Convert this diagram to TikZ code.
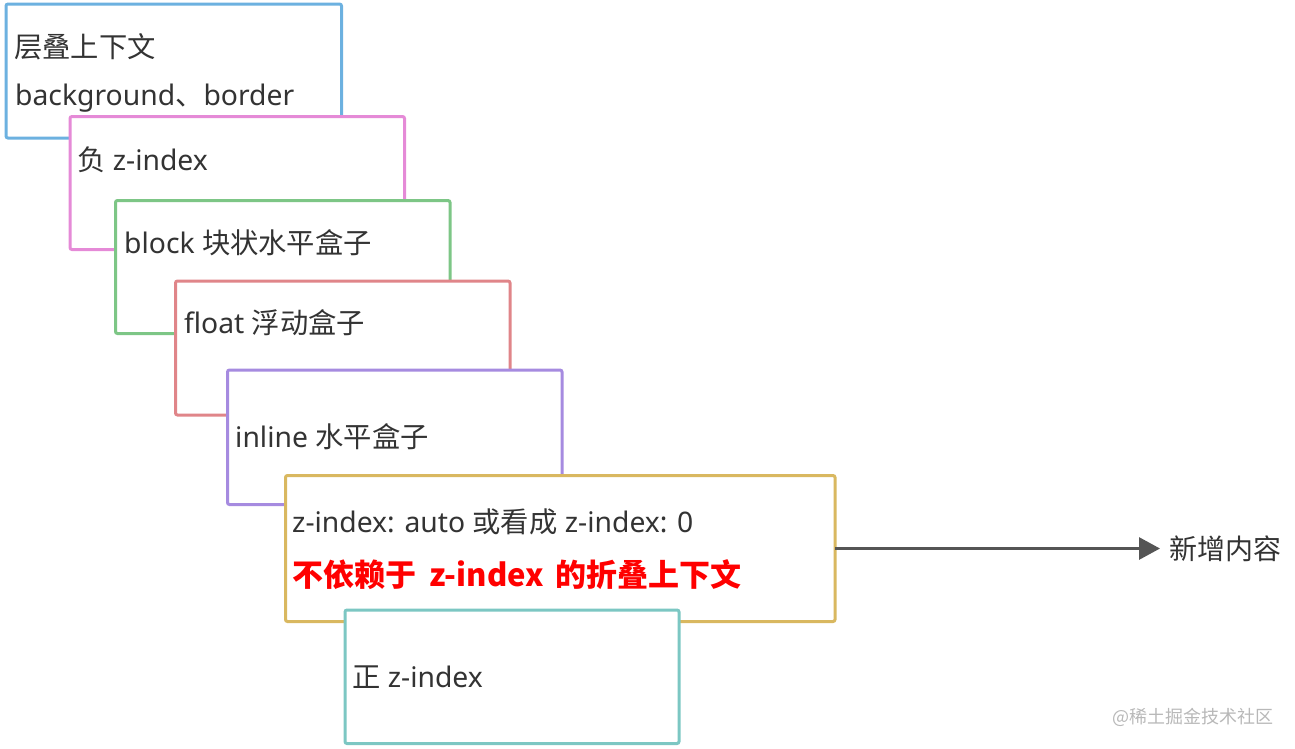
\documentclass[tikz,border=0pt]{standalone}
\usepackage{fontspec}
\setmainfont{Noto Sans}
\newfontfamily\cjk{Noto Sans CJK SC}
\newcommand{\C}[1]{{\cjk #1}}
\usetikzlibrary{arrows.meta}
\definecolor{cblue}{HTML}{6CB1E0}
\definecolor{cpink}{HTML}{E58AD7}
\definecolor{cgreen}{HTML}{7DC686}
\definecolor{cred}{HTML}{E08589}
\definecolor{cpurple}{HTML}{A68BE0}
\definecolor{cgold}{HTML}{D9B860}
\definecolor{cteal}{HTML}{7CC7C3}
\definecolor{ctext}{HTML}{333333}
\definecolor{carrow}{HTML}{555555}
\begin{document}
\begin{tikzpicture}[x=1pt,y=-1pt,
  box/.style={draw=#1, line width=3pt, fill=white, rounded corners=2pt, inner sep=0pt, outer sep=0pt, anchor=north west},
  lbl/.style={inner sep=0pt, anchor=base west, text=ctext, font=\fontsize{28.3}{32}\selectfont},
  boldlbl/.style={inner sep=0pt, anchor=base west, text=red, font=\fontsize{31}{36}\selectfont\cjk\bfseries},
  link/.style={draw=carrow, line width=3pt, -{Triangle[length=21pt,width=22pt]}}
]
\useasboundingbox (0,0) rectangle (1295,748);
\node[box=cblue, minimum width=335.5pt, minimum height=134pt] (b1) at (6,4) {};
\node[lbl] (t1) at (14,57) {\C{层叠上下文}};
\node[lbl] (t2) at (15,105) {background\C{、}border};
\node[box=cpink, minimum width=334.5pt, minimum height=133pt] (b2) at (70,116.5) {};
\node[lbl] (t3) at (77,170) {\C{负} z-index};
\node[box=cgreen, minimum width=334.5pt, minimum height=133pt] (b3) at (115.5,200.5) {};
\node[lbl] (t4) at (124,253) {block \C{块状水平盒子}};
\node[box=cred, minimum width=334.5pt, minimum height=134pt] (b4) at (175.5,281) {};
\node[lbl] (t5) at (184,333) {float \C{浮动盒子}};
\node[box=cpurple, minimum width=334.5pt, minimum height=134.5pt] (b5) at (227.5,370) {};
\node[lbl] (t6) at (235,447) {inline \C{水平盒子}};
\node[box=cgold, minimum width=549.5pt, minimum height=146pt] (b6) at (285.5,475.5) {};
\node[lbl] (t7) at (292,532) {z-index: auto \C{或看成} z-index: 0};
\node[boldlbl] (t8) at (292,586) {不依赖于\hspace{6pt} z-index\hspace{5pt} 的折叠上下文};
\node[box=cteal, minimum width=334pt, minimum height=133.5pt] (b7) at (345,610) {};
\node[lbl] (t9) at (352,687) {\C{正} z-index};
\node[inner sep=0pt, inner xsep=9pt, anchor=west, text=ctext, font=\fontsize{28}{32}\selectfont] (out) at (1160,548.5) {\C{新增内容}};
\draw[link] (b6.east) -- (out.west);
\node[inner sep=0pt, anchor=west, text=black!28, font=\fontsize{18}{22}\selectfont] (wm) at (1112,717) {\C{@稀土掘金技术社区}};
\end{tikzpicture}
\end{document}
